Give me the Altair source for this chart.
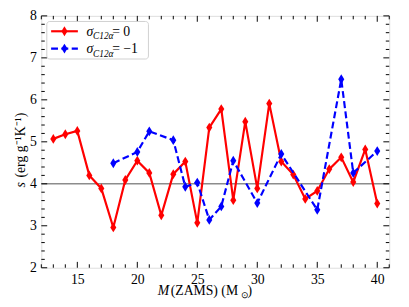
import altair as alt
import pandas as pd
import numpy as np

# ---- data ----
red_mass = list(range(13, 41))
red_s = [5.07, 5.18, 5.26, 4.20, 3.89, 2.96, 4.09, 4.55, 4.26, 3.25, 4.23, 4.53, 3.07,
         5.34, 5.78, 3.61, 5.48, 3.89, 5.91, 4.53, 4.22, 3.64, 3.83, 4.35, 4.63, 4.04,
         4.82, 3.53]
blue_mass = [18, 20, 21, 23, 24, 25, 26, 27, 28, 30, 32, 35, 37, 38, 40]
blue_s = [4.49, 4.76, 5.25, 5.04, 3.93, 4.03, 3.14, 3.46, 4.55, 3.54, 4.71, 3.38, 6.49,
          4.26, 4.78]
ref_level = 4.0
x_major = [15, 20, 25, 30, 35, 40]
y_major = [2, 3, 4, 5, 6, 7, 8]

W, H = 355, 257
FONT = "Liberation Serif"

xs = alt.Scale(domain=[12, 41], nice=False, zero=False)
ys = alt.Scale(domain=[2, 8], nice=False, zero=False)

red_df = pd.DataFrame({"m": red_mass, "s": red_s})
blue_df = pd.DataFrame({"m": blue_mass, "s": blue_s})

thin_diamond = "M0,-1L0.62,0L0,1L-0.62,0Z"

xax = alt.Axis(values=x_major, ticks=False, domain=False, grid=False, labelPadding=5,
               labelFontSize=14, labelFont=FONT, labelColor="black", title=None)
yax = alt.Axis(values=y_major, ticks=False, domain=False, grid=False, labelPadding=5,
               labelFontSize=14, labelFont=FONT, labelColor="black", title=None)

gray = alt.Chart(pd.DataFrame({"y": [ref_level]})).mark_rule(
    color="#8c8c8c", strokeWidth=1.5).encode(
    y=alt.Y("y:Q", scale=ys, axis=yax))

def series(df, color, dash):
    base = alt.Chart(df).encode(
        x=alt.X("m:Q", scale=xs, axis=xax),
        y=alt.Y("s:Q", scale=ys, axis=yax))
    kw = dict(color=color, strokeWidth=2.2)
    if dash:
        kw["strokeDash"] = [7, 3.5]
    line = base.mark_line(**kw)
    pts = base.mark_point(shape=thin_diamond, size=100, filled=True, color=color, opacity=1)
    return line + pts

red = series(red_df, "#ff0000", False)
blue = series(blue_df, "#0000ff", True)

# ---- inward ticks on all four sides ----
x_minor = [v for v in range(12, 42) if v not in x_major]
y_minor = [round(v, 1) for v in np.arange(2.0, 8.01, 0.2) if round(v, 1) not in y_major]

def xticks(vals, ln):
    d = pd.DataFrame({"t": vals})
    b = alt.Chart(d).mark_rule(color="black", strokeWidth=1)
    bot = b.encode(x=alt.X("t:Q", scale=xs), y=alt.value(H), y2=alt.value(H - ln))
    top = b.encode(x=alt.X("t:Q", scale=xs), y=alt.value(0), y2=alt.value(ln))
    return bot + top

def yticks(vals, ln):
    d = pd.DataFrame({"t": vals})
    b = alt.Chart(d).mark_rule(color="black", strokeWidth=1)
    lft = b.encode(y=alt.Y("t:Q", scale=ys), x=alt.value(0), x2=alt.value(ln))
    rgt = b.encode(y=alt.Y("t:Q", scale=ys), x=alt.value(W), x2=alt.value(W - ln))
    return lft + rgt

ticks = xticks(x_major, 6) + xticks(x_minor, 3.5) + yticks(y_major, 6) + yticks(y_minor, 3.5)

# ---- axis titles ----
one = pd.DataFrame({"a": [0]})

def txt(text, x, y, size=14, italic=False, align="left", angle=0, baseline="alphabetic"):
    kw = dict(text=text, font=FONT, fontSize=size, color="black", align=align,
              baseline=baseline)
    if italic:
        kw["fontStyle"] = "italic"
    if angle:
        kw["angle"] = angle
    return alt.Chart(one).mark_text(**kw).encode(x=alt.value(x), y=alt.value(y))

xt_y = 284.5
xtitle = (txt("M", 130.5, xt_y, italic=True, align="right")
          + txt("(ZAMS) (M", 132, xt_y)
          + txt("\u2299", 203.5, xt_y + 3, size=9.5)
          + txt(")", 210.5, xt_y))

yt_x = -17
ytitle = (txt("s", yt_x, 175, italic=True, angle=270)
          + txt("(erg g\u207b\u00b9K\u207b\u00b9)", yt_x, 165, angle=270))

# ---- legend ----
leg_box = alt.Chart(one).mark_rect(fill="white", stroke="#cccccc", strokeWidth=1,
                                   cornerRadius=3, opacity=0.9).encode(
    x=alt.value(5.6), x2=alt.value(109.3), y=alt.value(5.7), y2=alt.value(44))

def leg_row(yc, color, dash, tail):
    kw = dict(color=color, strokeWidth=2.2)
    if dash:
        kw["strokeDash"] = [7, 3.5]
    ln = alt.Chart(one).mark_rule(**kw).encode(
        x=alt.value(10), x2=alt.value(37.3), y=alt.value(yc))
    mk = alt.Chart(one).mark_point(shape=thin_diamond, size=100, filled=True, color=color,
                                   opacity=1).encode(x=alt.value(23.6), y=alt.value(yc))
    bl = yc + 4.8
    t = (txt("\u03c3", 46, bl, italic=True)
         + txt("C12\u03b1", 52.8, bl + 3.5, size=9.5, italic=True)
         + txt(tail, 72.3, bl))
    return ln + mk + t

legend = leg_box + leg_row(15.7, "#ff0000", False, "= 0") + leg_row(33.4, "#0000ff", True, "= \u22121")

chart = alt.layer(gray, red, blue, ticks, xtitle, ytitle, legend).properties(
    width=W, height=H,
    autosize=alt.AutoSizeParams(type="none"),
    padding={"left": 34, "top": 5, "right": 12, "bottom": 37},
).configure_view(stroke="black", strokeWidth=1.5).configure(background="white")

chart.save("out.html", embed_options={"renderer": "svg", "actions": False})
